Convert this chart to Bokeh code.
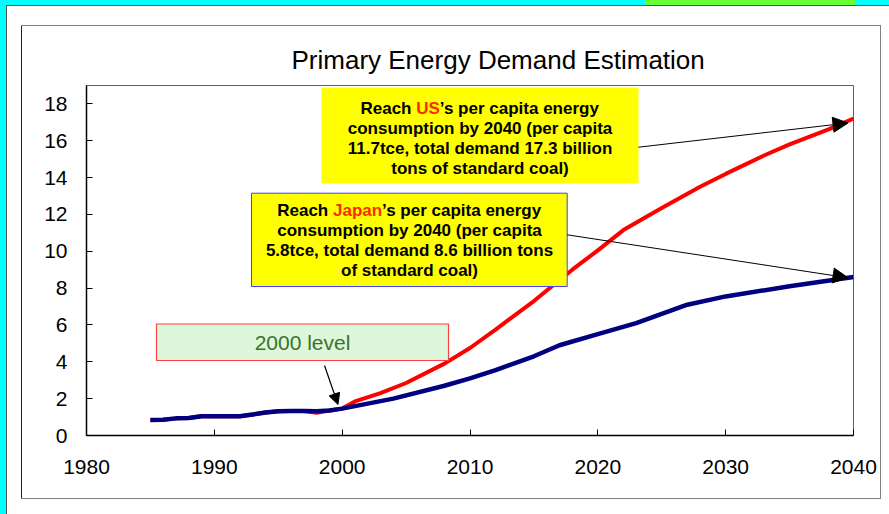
from bokeh.plotting import figure
from bokeh.models import Range1d, Arrow, NormalHead, FixedTicker
from bokeh.embed import file_html
from bokeh.resources import INLINE
from bokeh.core.properties import value

# ---------------- data ----------------
hist_years = [1985, 1986, 1987, 1988, 1989, 1990, 1991, 1992, 1993, 1994, 1995, 1996, 1997, 1998, 1999, 2000]
hist_jp = [0.84, 0.86, 0.93, 0.95, 1.04, 1.04, 1.04, 1.05, 1.14, 1.25, 1.32, 1.33, 1.33, 1.31, 1.36, 1.46]
hist_us = [0.84, 0.86, 0.93, 0.95, 1.04, 1.04, 1.04, 1.05, 1.14, 1.25, 1.32, 1.33, 1.33, 1.24, 1.36, 1.46]

us_years = [2001, 2003, 2005, 2008, 2010, 2012, 2015, 2018, 2020, 2022, 2025, 2028, 2030, 2033, 2035, 2038, 2040]
us_vals = [1.85, 2.30, 2.85, 3.90, 4.75, 5.75, 7.30, 9.00, 10.05, 11.15, 12.35, 13.50, 14.20, 15.20, 15.80, 16.60, 17.20]

jp_years = [2004, 2008, 2010, 2012, 2015, 2017, 2020, 2023, 2025, 2027, 2030, 2035, 2040]
jp_vals = [2.00, 2.70, 3.10, 3.55, 4.30, 4.90, 5.50, 6.10, 6.60, 7.10, 7.55, 8.10, 8.60]

x_ticks = [1980, 1990, 2000, 2010, 2020, 2030, 2040]
y_ticks = [0, 2, 4, 6, 8, 10, 12, 14, 16, 18]

title_text = "Primary Energy Demand Estimation"
us_lines = ["consumption by 2040 (per capita", "11.7tce, total demand 17.3 billion", "tons of standard coal)"]
jp_lines = ["consumption by 2040 (per capita", "5.8tce, total demand 8.6 billion tons", "of standard coal)"]
level_text = "2000 level"

# ---------------- layout helpers (canvas pixels -> data) ----------------
W, H = 889, 514
FL, FR, FT, FB = 86, 853, 85, 435
X0, X1, Y0, Y1 = 1980, 2040, 0, 19


def X(px):
    return X0 + (px - FL) * (X1 - X0) / (FR - FL)


def Y(py):
    return Y0 + (FB - py) * (Y1 - Y0) / (FB - FT)


W_BOLD = {"R": 722, "e": 556, "a": 556, "c": 556, "h": 611, " ": 278, "U": 722, "S": 667,
          "J": 556, "p": 611, "n": 611, "\u2019": 278, "s": 556, "r": 389, "i": 278,
          "t": 333, "g": 611, "y": 556}


def tw(s, size):
    return sum(W_BOLD.get(ch, 556) for ch in s) * size / 1000.0


def rect(color, x, y, w, h):
    return f"linear-gradient({color},{color}) {x}px {y}px / {w}px {h}px no-repeat"


FONT = "Liberation Sans"
BOX_FS = 17

p = figure(width=W, height=H, x_range=Range1d(X0, X1), y_range=Range1d(Y0, Y1),
           output_backend="svg", toolbar_location=None, title=title_text,
           min_border_left=FL, min_border_right=W - FR,
           min_border_top=FT, min_border_bottom=H - FB)
p.background_fill_color = "white"
p.border_fill_color = None
p.outline_line_color = "#606060"
p.outline_line_width = 1
p.xgrid.visible = False
p.ygrid.visible = False

# page decoration (slide background strips and the chart's outer box)
layers = [
    rect("#808080", 21, 25, 860, 1),     # outer box top
    rect("#808080", 21, 498, 860, 1),    # outer box bottom
    rect("#202020", 21, 25, 1, 474),     # outer box left
    rect("#808080", 880, 25, 1, 474),    # outer box right
    rect("#555555", 6, 5, 883, 1),       # page edge top
    rect("#555555", 6, 5, 1, 509),       # page edge left
    rect("#66ff33", 645, 0, 210, 5),     # green tab
    rect("#00ffff", 0, 0, 889, 5),       # cyan top strip
    rect("#00ffff", 0, 0, 6, 514),       # cyan left strip
]
p.styles = {"background": ", ".join(layers) + ", #ffffff"}

p.title.text_font = FONT
p.title.text_font_size = "26px"
p.title.text_font_style = "normal"
p.title.text_color = "black"
p.title.align = "left"
p.title.offset = 205
p.title.standoff = 22

for ax in (p.xaxis[0], p.yaxis[0]):
    ax.axis_line_color = "black"
    ax.axis_line_width = 1.5
    ax.major_tick_in = 6
    ax.major_tick_out = 0
    ax.minor_tick_in = 0
    ax.minor_tick_out = 0
    ax.major_tick_line_color = "black"
    ax.major_label_text_font = FONT
    ax.major_label_text_font_size = "21px"
    ax.major_label_text_color = "black"
p.xaxis.ticker = FixedTicker(ticks=x_ticks)
p.yaxis.ticker = FixedTicker(ticks=y_ticks)
p.xaxis.major_label_standoff = 24
p.yaxis.major_label_standoff = 19

# series
p.line(hist_years + us_years, hist_us + us_vals, line_color="#ff0000", line_width=4)
p.line(hist_years + jp_years, hist_jp + jp_vals, line_color="#000080", line_width=4.5)

# 2000 level box
p.quad(left=[X(156)], right=[X(448)], top=[Y(323.5)], bottom=[Y(360)],
       fill_color="#dcf7dc", line_color="#ff4040", line_width=1.2)
p.text(x=[X(302)], y=[Y(342)], text=[level_text], text_align="center", text_baseline="middle",
       text_font=value(FONT), text_font_size="21px", text_color="#3d7226")
p.add_layout(Arrow(x_start=X(324), y_start=Y(365), x_end=X(337.5), y_end=Y(404),
                   line_color="black", line_width=1.2,
                   end=NormalHead(size=11, fill_color="black", line_color="black")))

# US box
p.quad(left=[X(321)], right=[X(638)], top=[Y(87)], bottom=[Y(183)],
       fill_color="#ffff00", line_color=None)
cx = 479.5
first = ["Reach ", "US", "\u2019s per capita energy"]
total = sum(tw(s, BOX_FS) for s in first)
sx = cx - total / 2
for s, col in zip(first, ["black", "#ff2a00", "black"]):
    p.text(x=[X(sx)], y=[Y(107.5)], text=[s], text_align="left", text_baseline="middle",
           text_font=value(FONT), text_font_style="bold", text_font_size=f"{BOX_FS}px",
           text_color=col)
    sx += tw(s, BOX_FS)
for i, s in enumerate(us_lines):
    p.text(x=[X(cx)], y=[Y(127.7 + 20.2 * i)], text=[s], text_align="center", text_baseline="middle",
           text_font=value(FONT), text_font_style="bold", text_font_size=f"{BOX_FS}px",
           text_color="black")
p.add_layout(Arrow(x_start=X(638), y_start=Y(146.7), x_end=X(847.5), y_end=Y(122.5),
                   line_color="black", line_width=1,
                   end=NormalHead(size=15, fill_color="black", line_color="black")))

# Japan box
p.quad(left=[X(251)], right=[X(566.7)], top=[Y(192.7)], bottom=[Y(286)],
       fill_color="#ffff00", line_color="#4040ff", line_width=1)
cx = 409
first = ["Reach ", "Japan", "\u2019s per capita energy"]
total = sum(tw(s, BOX_FS) for s in first)
sx = cx - total / 2
for s, col in zip(first, ["black", "#ff2a00", "black"]):
    p.text(x=[X(sx)], y=[Y(210)], text=[s], text_align="left", text_baseline="middle",
           text_font=value(FONT), text_font_style="bold", text_font_size=f"{BOX_FS}px",
           text_color=col)
    sx += tw(s, BOX_FS)
for i, s in enumerate(jp_lines):
    p.text(x=[X(cx)], y=[Y(230 + 20 * i)], text=[s], text_align="center", text_baseline="middle",
           text_font=value(FONT), text_font_style="bold", text_font_size=f"{BOX_FS}px",
           text_color="black")
p.add_layout(Arrow(x_start=X(566.7), y_start=Y(234.3), x_end=X(847.5), y_end=Y(277.3),
                   line_color="black", line_width=1,
                   end=NormalHead(size=15, fill_color="black", line_color="black")))

open("out.html", "w").write(file_html(p, INLINE))
